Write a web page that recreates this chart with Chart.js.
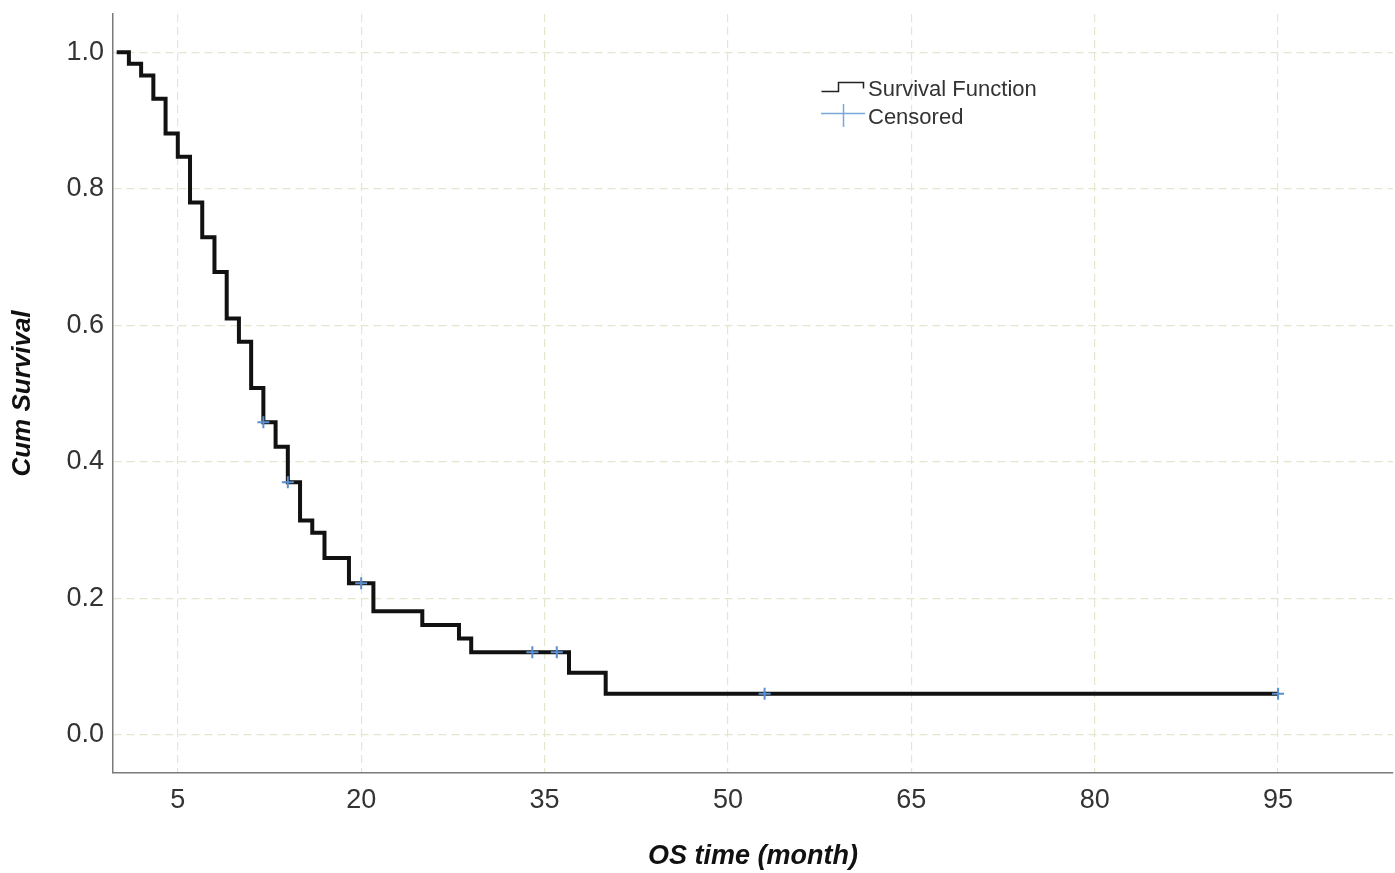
<!DOCTYPE html>
<html>
<head>
<meta charset="utf-8">
<title>Cum Survival</title>
<script src="https://cdn.jsdelivr.net/npm/chart.js@4/dist/chart.umd.min.js"></script>
<style>
  html, body { margin: 0; padding: 0; background: #fff; overflow: hidden; }
  #wrap { width: 1395px; height: 873px; }
  #km { display: block; }
</style>
</head>
<body>
<div id="wrap"><canvas id="km" width="1395" height="873"></canvas></div>
<script>
// Kaplan-Meier step curve: time (months) and cumulative survival after each drop
const stepTimes    = [0, 1, 2, 3, 4, 5, 6, 7, 8, 9, 10, 11, 12, 13, 14, 15, 16, 17, 19, 21, 25, 28, 29, 37, 40, 95];
const stepSurvival = [1.0, 0.983, 0.966, 0.932, 0.881, 0.847, 0.780, 0.729, 0.678, 0.610, 0.576, 0.508,
                      0.458, 0.422, 0.370, 0.314, 0.296, 0.259, 0.222, 0.181, 0.161, 0.141, 0.121, 0.091, 0.060, 0.060];

// censored observations
const censorTimes    = [12, 14, 20, 34, 36, 53, 95];
const censorSurvival = [0.458, 0.370, 0.222, 0.121, 0.121, 0.060, 0.060];

// axis ticks
const xTicks = [5, 20, 35, 50, 65, 80, 95];
const yTicks = [0, 0.2, 0.4, 0.6, 0.8, 1.0];

const FONT = '"Liberation Sans", Arial, sans-serif';
const GRID = '#e6e6cf';
const AXIS = '#7a7a7a';
const CENSOR = '#5b8fd0';

const curve = stepTimes.map((t, i) => ({ x: t, y: stepSurvival[i] }));
const censored = censorTimes.map((t, i) => ({ x: t, y: censorSurvival[i] }));

// legend box in the upper middle of the plot
const kmLegend = {
  id: 'kmLegend',
  afterDraw(chart) {
    const ctx = chart.ctx;
    ctx.save();
    ctx.lineWidth = 1.5;
    ctx.strokeStyle = '#222';
    ctx.beginPath();
    ctx.moveTo(821.5, 91.5);
    ctx.lineTo(838.5, 91.5);
    ctx.lineTo(838.5, 82.5);
    ctx.lineTo(863.5, 82.5);
    ctx.lineTo(863.5, 88.5);
    ctx.stroke();

    ctx.strokeStyle = '#7aa7d8';
    ctx.beginPath();
    ctx.moveTo(821, 113.5);
    ctx.lineTo(865, 113.5);
    ctx.moveTo(843.5, 104);
    ctx.lineTo(843.5, 127);
    ctx.stroke();

    ctx.fillStyle = '#333';
    ctx.font = '22px ' + FONT;
    ctx.textAlign = 'left';
    ctx.textBaseline = 'middle';
    ctx.fillText('Survival Function', 868, 90);
    ctx.fillText('Censored', 868, 118);
    ctx.restore();
  }
};

// keep the plot area fixed: drop the half-label padding the scales ask for
function fixX(s) {
  s.height = 100;
  s.paddingLeft = 0;
  s.paddingRight = 0;
}
function fixY(s) {
  s.width = 113;
  s.paddingTop = 0;
  s.paddingBottom = 0;
}

new Chart(document.getElementById('km'), {
  type: 'line',
  data: {
    datasets: [{
      label: 'Censored',
      type: 'scatter',
      data: censored,
      order: 0,
      pointStyle: 'cross',
      pointRadius: 6,
      pointBorderWidth: 2,
      pointBorderColor: CENSOR,
      pointBackgroundColor: CENSOR,
      showLine: false
    }, {
      label: 'Survival Function',
      data: curve,
      order: 1,
      stepped: true,
      borderColor: '#111',
      borderWidth: 4,
      pointRadius: 0,
      fill: false
    }]
  },
  options: {
    responsive: false,
    animation: false,
    devicePixelRatio: 1,
    layout: { autoPadding: false, padding: { top: 14, right: 2, left: 0, bottom: 0 } },
    plugins: {
      legend: { display: false },
      tooltip: { enabled: false }
    },
    scales: {
      x: {
        type: 'linear',
        min: -0.3,
        max: 104.4,
        afterBuildTicks: s => { s.ticks = xTicks.map(v => ({ value: v })); },
        afterFit: fixX,
        grid: { color: GRID, lineWidth: 1.2, drawTicks: false },
        border: { display: true, color: AXIS, width: 1.5, dash: [8, 5] },
        ticks: { padding: 11, color: '#333', font: { family: FONT, size: 27 } },
        title: {
          display: true,
          text: 'OS time (month)',
          color: '#111',
          padding: { top: 0, bottom: 0 },
          font: { family: FONT, size: 27, weight: 'bold', style: 'italic' }
        }
      },
      y: {
        type: 'linear',
        min: -0.056,
        max: 1.056,
        afterBuildTicks: s => { s.ticks = yTicks.map(v => ({ value: v })); },
        afterFit: fixY,
        grid: { color: GRID, lineWidth: 1.2, drawTicks: false },
        border: { display: true, color: AXIS, width: 1.5, dash: [8, 5] },
        ticks: {
          padding: 9,
          color: '#333',
          font: { family: FONT, size: 27 },
          callback: v => v.toFixed(1)
        },
        title: {
          display: true,
          text: 'Cum Survival',
          color: '#111',
          padding: { top: 7, bottom: 0 },
          font: { family: FONT, size: 26, weight: 'bold', style: 'italic' }
        }
      }
    }
  },
  plugins: [kmLegend]
});
</script>
</body>
</html>
